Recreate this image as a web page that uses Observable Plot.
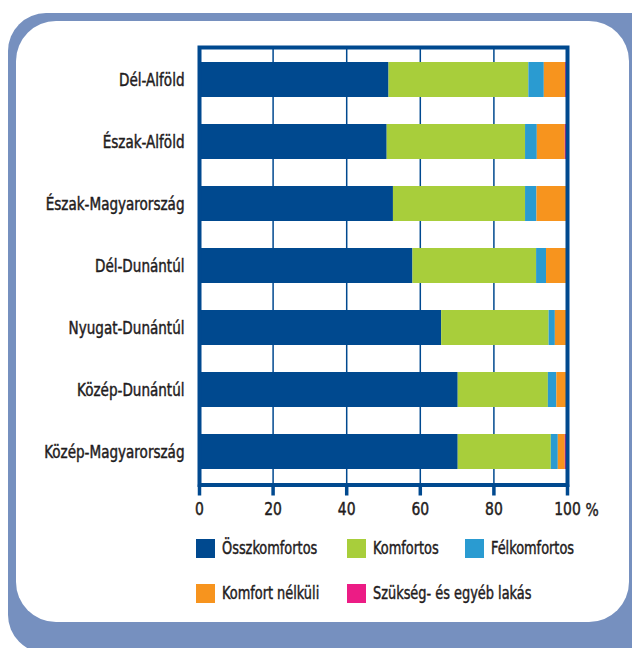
<!DOCTYPE html>
<html>
<head>
<meta charset="utf-8">
<script src="https://cdn.jsdelivr.net/npm/d3@7"></script>
<script src="https://cdn.jsdelivr.net/npm/@observablehq/plot@0.6"></script>
<style>
  html, body { margin: 0; padding: 0; background: #fff; width: 632px; height: 648px; overflow: hidden; }
  body { position: relative; font-family: "DejaVu Sans Condensed", sans-serif; color: #1f1c1d; }
  #outer { position: absolute; left: 8px; top: 13px; width: 660px; height: 640px; background: #7690bf; border-radius: 38px; }
  #inner { position: absolute; left: 16px; top: 21px; width: 613px; height: 601px; background: #fff; border-radius: 40px; }
  #chart { position: absolute; left: 0; top: 0; }
  #chart text { stroke: #1f1c1d; stroke-width: 0.45px; }
  #legend { position: absolute; left: 0; top: 0; width: 632px; height: 648px; }
  .item { position: absolute; display: flex; align-items: center; font-size: 17.5px; height: 20px; white-space: nowrap; }
  .sw { width: 19px; height: 19px; margin-right: 7px; flex: none; }
  .lt { display: inline-block; transform: scaleX(0.82); transform-origin: left center; -webkit-text-stroke: 0.45px #1f1c1d; }
</style>
</head>
<body>
<div id="outer"></div>
<div id="inner"></div>
<div id="chart"></div>
<div id="legend"></div>
<script>
const regions = ["Dél-Alföld", "Észak-Alföld", "Észak-Magyarország", "Dél-Dunántúl", "Nyugat-Dunántúl", "Közép-Dunántúl", "Közép-Magyarország"];
const series = ["Összkomfortos", "Komfortos", "Félkomfortos", "Komfort nélküli", "Szükség- és egyéb lakás"];
const colors = ["#00498f", "#a8ce3b", "#2a9bd1", "#f7941e", "#ec1c85"];
const osszkomfortos   = [51.5, 51.0, 52.7, 58.0, 65.8, 70.3, 70.3];
const komfortos       = [38.0, 37.6, 35.9, 33.6, 29.2, 24.5, 25.3];
const felkomfortos    = [4.2, 3.2, 3.1, 2.7, 1.7, 2.3, 1.9];
const komfortNelkuli  = [5.8, 7.6, 8.1, 5.5, 3.1, 2.7, 1.9];
const szukseg         = [0.5, 0.6, 0.2, 0.2, 0.2, 0.2, 0.6];
const xTicks = [0, 20, 40, 60, 80, 100];
const gridTicks = [20, 40, 60, 80];
const unitLabel = "%";

const valueArrays = [osszkomfortos, komfortos, felkomfortos, komfortNelkuli, szukseg];
const data = [];
regions.forEach((r, i) => {
  series.forEach((s, j) => data.push({region: r, series: s, value: valueArrays[j][i]}));
});

const dark = "#00498f";
const textColor = "#1f1c1d";
const font = '"DejaVu Sans Condensed", sans-serif';

const chart = Plot.plot({
  width: 632,
  height: 535,
  marginTop: 47,
  marginBottom: 50.5,
  marginLeft: 199,
  marginRight: 65,
  style: {fontFamily: font, fontSize: "18px", color: textColor, background: "transparent", overflow: "visible"},
  x: {domain: [0, 100]},
  y: {domain: regions, paddingInner: 0.44, paddingOuter: 0.22},
  color: {domain: series, range: colors},
  marks: [
    Plot.gridX(gridTicks, {stroke: dark, strokeOpacity: 1, strokeWidth: 1.5}),
    Plot.barX(data, Plot.stackX({x: "value", y: "region", fill: "series", order: series})),
    Plot.frame({stroke: dark, strokeWidth: 4}),
    Plot.axisX(xTicks, {tickSize: 11, tickPadding: 6, stroke: dark, strokeWidth: 3.5, fontSize: 18, fill: textColor, tickFormat: d => String(d), label: null}),
    Plot.text([unitLabel], {x: 100, frameAnchor: "bottom", dy: 31, dx: 18, textAnchor: "start", fontSize: 18, fill: textColor}),
    Plot.axisY({tickSize: 0, tickPadding: 15, fontSize: 17.5, fill: textColor, label: null})
  ]
});
document.getElementById("chart").appendChild(chart);

// condense glyphs horizontally to mimic the narrow typeface of the original
chart.querySelectorAll("text").forEach(el => {
  const w = el.getComputedTextLength();
  if (w > 0) {
    el.setAttribute("textLength", (w * 0.86).toFixed(2));
    el.setAttribute("lengthAdjust", "spacingAndGlyphs");
  }
});

const legendPos = [[196, 538], [347, 538], [465, 538], [196, 583], [347, 583]];
const legend = document.getElementById("legend");
series.forEach((s, j) => {
  const item = document.createElement("div");
  item.className = "item";
  item.style.left = legendPos[j][0] + "px";
  item.style.top = legendPos[j][1] + "px";
  const sw = document.createElement("div");
  sw.className = "sw";
  sw.style.background = colors[j];
  const t = document.createElement("span");
  t.className = "lt";
  t.textContent = s;
  item.appendChild(sw);
  item.appendChild(t);
  legend.appendChild(item);
});
</script>
</body>
</html>
